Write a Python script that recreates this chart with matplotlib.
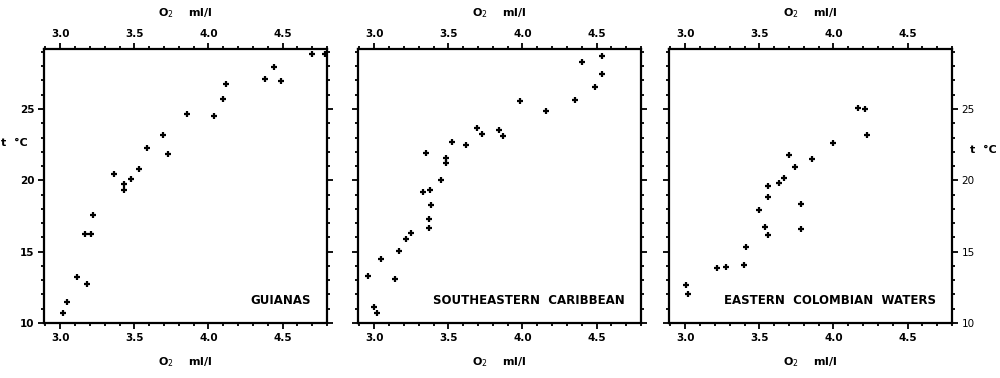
import matplotlib
matplotlib.use("Agg")
import matplotlib.pyplot as plt
from matplotlib.ticker import MultipleLocator

plt.rcParams['font.family'] = ['DejaVu Sans']

# Data: O2 (ml/l) vs temperature (deg C)
guianas_o2 = [3.02, 3.045, 3.11, 3.18, 3.17, 3.21, 3.22, 3.36, 3.43, 3.43, 3.48, 3.53,
              3.585, 3.69, 3.73, 3.855, 4.04, 4.095, 4.12, 4.38, 4.44, 4.49, 4.70, 4.785]
guianas_t = [10.72, 11.47, 13.22, 12.71, 16.21, 16.21, 17.57, 20.44, 19.77, 19.3, 20.09, 20.77,
             22.27, 23.2, 21.85, 24.65, 24.51, 25.68, 26.75, 27.1, 27.97, 26.96, 28.83, 28.83]

caribbean_o2 = [2.955, 3.0, 3.02, 3.045, 3.14, 3.167, 3.214, 3.25, 3.33, 3.377, 3.383, 3.368,
                3.368, 3.352, 3.448, 3.484, 3.484, 3.524, 3.617, 3.695, 3.724, 3.842, 3.867,
                3.98, 4.16, 4.355, 4.40, 4.49, 4.54, 4.54]
caribbean_t = [13.25, 11.14, 10.72, 14.46, 13.04, 15.05, 15.91, 16.29, 19.16, 19.3, 18.25, 17.27,
               16.66, 21.89, 20.05, 21.54, 21.19, 22.69, 22.45, 23.67, 23.22, 23.55, 23.08,
               25.56, 24.84, 25.61, 28.29, 26.54, 28.69, 27.43]

colombian_o2 = [3.004, 3.016, 3.216, 3.277, 3.396, 3.407, 3.50, 3.538, 3.558, 3.558, 3.558,
                3.63, 3.664, 3.70, 3.738, 3.783, 3.778, 3.852, 3.994, 4.165, 4.215, 4.226]
colombian_t = [12.64, 12.01, 13.86, 13.95, 14.09, 15.33, 17.92, 16.75, 16.14, 18.81, 19.58,
               19.81, 20.19, 21.75, 20.91, 18.32, 16.57, 21.5, 22.64, 25.09, 24.98, 23.15]

region_names = ["GUIANAS", "SOUTHEASTERN  CARIBBEAN", "EASTERN  COLOMBIAN  WATERS"]
x_ticks = [3.0, 3.5, 4.0, 4.5]
x_tick_labels = ["3.0", "3.5", "4.0", "4.5"]
y_ticks = [10, 15, 20, 25]
x_label = "O$_2$    ml/l"
y_label = "t  °C"

series = [(guianas_o2, guianas_t), (caribbean_o2, caribbean_t), (colombian_o2, colombian_t)]

fig = plt.figure(figsize=(10, 3.78), dpi=100)
lefts = [0.044, 0.358, 0.669]
width = 0.283
bottom = 0.146
height = 0.724

fs = 7.5
for i, ((xo, yt), name) in enumerate(zip(series, region_names)):
    ax = fig.add_axes([lefts[i], bottom, width, height])
    ax.plot(xo, yt, linestyle='none', marker='+', markersize=5, markeredgewidth=1.6, color='black')
    ax.set_xlim(2.89, 4.8)
    ax.set_ylim(10, 29.2)
    for s in ax.spines.values():
        s.set_linewidth(1.6)
    ax.set_xticks(x_ticks)
    ax.set_xticklabels(x_tick_labels)
    ax.xaxis.set_minor_locator(MultipleLocator(0.1))
    ax.set_yticks(y_ticks)
    ax.yaxis.set_minor_locator(MultipleLocator(1))
    ax.tick_params(which='major', direction='out', length=4, width=1.3, labelsize=fs,
                   top=True, bottom=True, left=True, right=True,
                   labeltop=True, labelbottom=True, pad=3)
    ax.tick_params(which='minor', direction='out', length=2.5, width=1.3,
                   top=True, bottom=True, left=True, right=True)
    for lab in ax.get_xticklabels() + ax.get_yticklabels():
        lab.set_fontweight('bold')
    ax.set_xlabel(x_label, fontsize=fs + 0.5, fontweight='bold', labelpad=9)
    ax.xaxis.set_label_position('bottom')
    # top axis label
    ax.text(0.5, 1.13, x_label, transform=ax.transAxes, ha='center', va='center',
            fontsize=fs + 0.5, fontweight='bold')
    if i == 0:
        ax.tick_params(labelleft=True, labelright=False)
        ax.set_ylabel(y_label, rotation=0, fontsize=fs + 0.5, fontweight='bold', labelpad=6)
        ax.yaxis.set_label_coords(-0.105, 0.64)
    elif i == 1:
        ax.tick_params(labelleft=False, labelright=False)
    else:
        ax.tick_params(labelleft=False, labelright=True)
        ax.yaxis.set_label_position('right')
        ax.set_ylabel(y_label, rotation=0, fontsize=fs + 0.5, fontweight='bold')
        ax.yaxis.set_label_coords(1.11, 0.65)
    ax.text(0.943, 0.083, name, transform=ax.transAxes, ha='right', va='center',
            fontsize=fs + 1, fontweight='bold')

fig.savefig("out.png", dpi=100)
